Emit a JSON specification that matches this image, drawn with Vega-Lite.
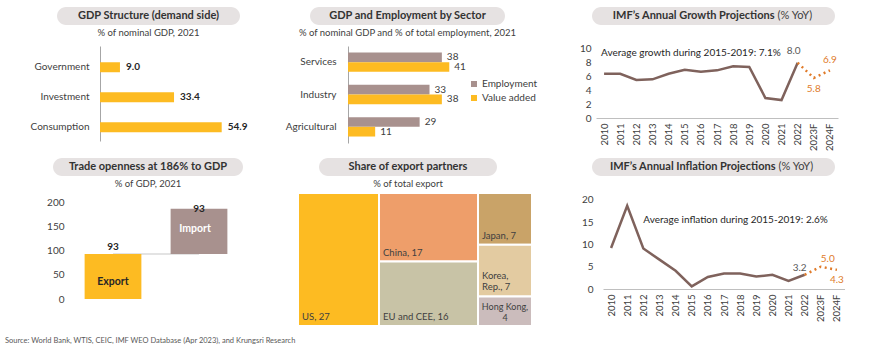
{
  "$schema": "https://vega.github.io/schema/vega-lite/v6.json",
  "background": "white",
  "padding": {"left": 0, "top": 7, "right": 0, "bottom": 0},
  "spacing": 5,
  "resolve": {"scale": {"color": "independent"}, "legend": {"color": "independent"}},
  "config": {
    "font": "Lato",
    "view": {"stroke": null},
    "axis": {"labelFont": "Lato", "labelColor": "#404040", "grid": false},
    "legend": {"labelFont": "Lato"},
    "title": {"font": "Lato"}
  },
  "title": {
    "text": "Source: World Bank, WTIS, CEIC, IMF WEO Database (Apr 2023), and Krungsri Research",
    "orient": "bottom", "anchor": "start", "frame": "group",
    "fontSize": 7.5, "fontWeight": "normal", "color": "#595959", "offset": 10, "dx": 5
  },
  "vconcat": [
    {
      "bounds": "flush", "spacing": 0,
      "hconcat": [
        {"width": 57, "height": 1, "data": {"values": []}, "mark": "point"},
        {
          "width": 183, "height": 18,
          "view": {"fill": "#E6E2E2", "cornerRadius": 9, "stroke": null},
          "title": {"text": "% of nominal GDP, 2021", "orient": "bottom", "anchor": "middle", "offset": 3, "fontSize": 9.5, "fontWeight": "normal", "color": "#404040"},
          "data": {"values": [{}]},
          "mark": {"type": "text", "text": "GDP Structure (demand side)", "fontWeight": "bold", "fontSize": 11, "color": "#333333", "align": "center", "baseline": "middle"}
        },
        {"width": 70, "height": 1, "data": {"values": []}, "mark": "point"},
        {
          "width": 195, "height": 18,
          "view": {"fill": "#E6E2E2", "cornerRadius": 9, "stroke": null},
          "title": {"text": "% of nominal GDP and % of total employment, 2021", "orient": "bottom", "anchor": "middle", "offset": 3, "fontSize": 9.5, "fontWeight": "normal", "color": "#404040"},
          "data": {"values": [{}]},
          "mark": {"type": "text", "text": "GDP and Employment by Sector", "fontWeight": "bold", "fontSize": 11, "color": "#333333", "align": "center", "baseline": "middle"}
        },
        {"width": 87, "height": 1, "data": {"values": []}, "mark": "point"},
        {
          "width": 243, "height": 18,
          "view": {"fill": "#E6E2E2", "cornerRadius": 9, "stroke": null},
          "data": {"values": [{}]},
          "layer": [
            {"mark": {"type": "text", "text": "IMF’s Annual Growth Projections", "fontWeight": "bold", "fontSize": 11, "color": "#333333", "align": "right", "baseline": "middle", "dx": 61}},
            {"mark": {"type": "text", "text": "(% YoY)", "fontWeight": "normal", "fontSize": 11, "color": "#404040", "align": "left", "baseline": "middle", "dx": 64}}
          ]
        }
      ]
    },
    {
      "spacing": 7,
      "resolve": {"scale": {"color": "independent"}, "legend": {"color": "independent"}},
      "vconcat": [
        {
          "bounds": "flush", "spacing": 0,
          "resolve": {"scale": {"color": "independent"}, "legend": {"color": "independent"}},
          "hconcat": [
            {"width": 100, "height": 1, "data": {"values": []}, "mark": "point"},
            {
              "width": 133, "height": 95,
              "data": {"values": [
                {"component": "Government", "share": 9.0},
                {"component": "Investment", "share": 33.4},
                {"component": "Consumption", "share": 54.9}
              ]},
              "encoding": {
                "y": {"field": "component", "type": "nominal", "sort": null,
                  "scale": {"paddingInner": 0.667, "paddingOuter": 0.4167, "align": 0.65},
                  "axis": {"title": null, "ticks": false, "domainColor": "#A6A6A6", "labelPadding": 11, "labelFontSize": 10}},
                "x": {"field": "share", "type": "quantitative", "scale": {"domain": [0, 60]}, "axis": null}
              },
              "layer": [
                {"mark": {"type": "bar", "color": "#FDBB22"}},
                {"mark": {"type": "text", "align": "left", "dx": 6, "fontWeight": "bold", "fontSize": 10, "color": "#262626"},
                 "encoding": {"text": {"field": "share", "type": "quantitative", "format": ".1f"}}}
              ]
            },
            {"width": 115, "height": 1, "data": {"values": []}, "mark": "point"},
            {
              "width": 123.5, "height": 97,
              "data": {"values": [
                {"sector": "Services", "measure": "Employment", "pct": 38},
                {"sector": "Services", "measure": "Value added", "pct": 41},
                {"sector": "Industry", "measure": "Employment", "pct": 33},
                {"sector": "Industry", "measure": "Value added", "pct": 38},
                {"sector": "Agricultural", "measure": "Employment", "pct": 29},
                {"sector": "Agricultural", "measure": "Value added", "pct": 11}
              ]},
              "encoding": {
                "y": {"field": "sector", "type": "nominal", "sort": ["Services", "Industry", "Agricultural"],
                  "scale": {"paddingInner": 0.4, "paddingOuter": 0.2},
                  "axis": {"title": null, "ticks": false, "domainColor": "#A6A6A6", "labelPadding": 12, "labelFontSize": 10}},
                "yOffset": {"field": "measure", "type": "nominal", "sort": ["Employment", "Value added"], "scale": {"paddingInner": 0, "paddingOuter": 0}},
                "x": {"field": "pct", "type": "quantitative", "scale": {"domain": [0, 50]}, "axis": null}
              },
              "layer": [
                {"mark": "bar",
                 "encoding": {"color": {"field": "measure", "type": "nominal", "sort": ["Employment", "Value added"],
                   "scale": {"range": ["#A8918E", "#FDBB22"]},
                   "legend": {"orient": "none", "legendX": 121, "legendY": 33, "title": null, "padding": 0, "symbolType": "square", "symbolSize": 36, "symbolStrokeWidth": 0, "labelFontSize": 10, "labelColor": "#404040", "labelOffset": 3, "rowPadding": 4}}}},
                {"mark": {"type": "text", "align": "left", "dx": 5, "fontSize": 10, "color": "#404040"},
                 "encoding": {"text": {"field": "pct", "type": "quantitative"}}}
              ]
            },
            {"width": 123.5, "height": 1, "data": {"values": []}, "mark": "point"},
            {
              "width": 242, "height": 72,
              "data": {"values": [
                {"year": "2010", "gdp": 6.4}, {"year": "2011", "gdp": 6.4}, {"year": "2012", "gdp": 5.5},
                {"year": "2013", "gdp": 5.6}, {"year": "2014", "gdp": 6.4}, {"year": "2015", "gdp": 7.0},
                {"year": "2016", "gdp": 6.7}, {"year": "2017", "gdp": 6.9}, {"year": "2018", "gdp": 7.5},
                {"year": "2019", "gdp": 7.4}, {"year": "2020", "gdp": 2.9}, {"year": "2021", "gdp": 2.6},
                {"year": "2022", "gdp": 8.0}, {"year": "2023F", "gdp": 5.8}, {"year": "2024F", "gdp": 6.9}
              ]},
              "encoding": {
                "x": {"field": "year", "type": "ordinal",
                  "scale": {"type": "point", "padding": 0.5, "domain": ["2010","2011","2012","2013","2014","2015","2016","2017","2018","2019","2020","2021","2022","2023F","2024F"]},
                  "axis": {"title": null, "labelAngle": -90, "ticks": false, "domainColor": "#BFBFBF", "labelPadding": 5, "labelFontSize": 9.5}},
                "y": {"field": "gdp", "type": "quantitative", "scale": {"domain": [0, 10.43], "nice": false},
                  "axis": {"title": null, "values": [0, 2, 4, 6, 8, 10], "domain": false, "ticks": false, "labelPadding": 5, "labelFontSize": 10}}
              },
              "layer": [
                {"transform": [{"filter": "datum.year != '2023F' && datum.year != '2024F'"}],
                 "mark": {"type": "line", "color": "#7F625C", "strokeWidth": 2.5}},
                {"transform": [{"filter": "datum.year == '2022' || datum.year == '2023F' || datum.year == '2024F'"}],
                 "mark": {"type": "line", "color": "#E07B2A", "strokeWidth": 2.5, "strokeDash": [2, 3.5]}},
                {"transform": [{"filter": "datum.year == '2022'"}],
                 "mark": {"type": "text", "fontSize": 10, "color": "#595959", "dx": -4, "dy": -12},
                 "encoding": {"text": {"field": "gdp", "type": "quantitative", "format": ".1f"}}},
                {"transform": [{"filter": "datum.year == '2023F'"}],
                 "mark": {"type": "text", "fontSize": 10, "color": "#E07B2A", "dy": 11},
                 "encoding": {"text": {"field": "gdp", "type": "quantitative", "format": ".1f"}}},
                {"transform": [{"filter": "datum.year == '2024F'"}],
                 "mark": {"type": "text", "fontSize": 10, "color": "#E07B2A", "dy": -10},
                 "encoding": {"text": {"field": "gdp", "type": "quantitative", "format": ".1f"}}},
                {"data": {"values": [{"year": "2010", "gdp": 9.4, "note": "Average growth during 2015-2019: 7.1%"}]},
                 "mark": {"type": "text", "align": "left", "baseline": "middle", "dx": -3, "fontSize": 10, "color": "#262626"},
                 "encoding": {"text": {"field": "note", "type": "nominal"}}}
              ]
            }
          ]
        },
        {
          "spacing": 3,
          "resolve": {"scale": {"color": "independent"}, "legend": {"color": "independent"}},
          "vconcat": [
            {
              "bounds": "flush", "spacing": 0,
              "hconcat": [
                {"width": 53, "height": 1, "data": {"values": []}, "mark": "point"},
                {
                  "width": 190, "height": 18,
                  "view": {"fill": "#E6E2E2", "cornerRadius": 9, "stroke": null},
                  "title": {"text": "% of GDP, 2021", "orient": "bottom", "anchor": "middle", "offset": 3, "fontSize": 9.5, "fontWeight": "normal", "color": "#404040"},
                  "data": {"values": [{}]},
                  "mark": {"type": "text", "text": "Trade openness at 186% to GDP", "fontWeight": "bold", "fontSize": 11, "color": "#333333", "align": "center", "baseline": "middle"}
                },
                {"width": 76, "height": 1, "data": {"values": []}, "mark": "point"},
                {
                  "width": 178, "height": 18,
                  "view": {"fill": "#E6E2E2", "cornerRadius": 9, "stroke": null},
                  "title": {"text": "% of total export", "orient": "bottom", "anchor": "middle", "offset": 3, "fontSize": 9.5, "fontWeight": "normal", "color": "#404040"},
                  "data": {"values": [{}]},
                  "mark": {"type": "text", "text": "Share of export partners", "fontWeight": "bold", "fontSize": 11, "color": "#333333", "align": "center", "baseline": "middle"}
                },
                {"width": 95, "height": 1, "data": {"values": []}, "mark": "point"},
                {
                  "width": 243, "height": 18,
                  "view": {"fill": "#E6E2E2", "cornerRadius": 9, "stroke": null},
                  "data": {"values": [{}]},
                  "layer": [
                    {"mark": {"type": "text", "text": "IMF’s Annual Inflation Projections", "fontWeight": "bold", "fontSize": 11, "color": "#333333", "align": "right", "baseline": "middle", "dx": 62}},
                    {"mark": {"type": "text", "text": "(% YoY)", "fontWeight": "normal", "fontSize": 11, "color": "#404040", "align": "left", "baseline": "middle", "dx": 65}}
                  ]
                }
              ]
            },
            {
              "bounds": "flush", "spacing": 0,
              "resolve": {"scale": {"color": "independent"}, "legend": {"color": "independent"}},
              "hconcat": [
                {"width": 70, "height": 1, "data": {"values": []}, "mark": "point"},
                {
                  "width": 172, "height": 106,
                  "data": {"values": [
                    {"flow": "Export", "value": 93},
                    {"flow": "Import", "value": 93}
                  ]},
                  "transform": [
                    {"window": [{"op": "sum", "field": "value", "as": "top"}], "sort": [{"field": "flow"}], "frame": [null, 0]},
                    {"calculate": "datum.top - datum.value", "as": "base"}
                  ],
                  "encoding": {
                    "x": {"field": "flow", "type": "nominal", "sort": ["Export", "Import"],
                      "scale": {"paddingInner": 0.34, "paddingOuter": 0.17}, "axis": null},
                    "y": {"field": "top", "type": "quantitative", "scale": {"domain": [0, 218.6], "nice": false},
                      "axis": {"title": null, "values": [0, 50, 100, 150, 200], "domain": false, "ticks": false, "labelPadding": 6, "labelFontSize": 10}}
                  },
                  "layer": [
                    {"transform": [{"filter": "datum.flow == 'Export'"}],
                     "mark": {"type": "rule", "color": "#E3E3E3", "strokeWidth": 2},
                     "encoding": {"x2": {"datum": "Import"}}},
                    {"mark": "bar",
                     "encoding": {"y2": {"field": "base"},
                       "color": {"field": "flow", "type": "nominal", "sort": ["Export", "Import"], "scale": {"range": ["#FDBB22", "#A8918E"]}, "legend": null}}},
                    {"transform": [{"filter": "datum.flow == 'Export'"}],
                     "mark": {"type": "text", "fontWeight": "bold", "fontSize": 10, "color": "#262626", "dy": -7},
                     "encoding": {"text": {"field": "value", "type": "quantitative"}}},
                    {"transform": [{"filter": "datum.flow == 'Import'"}],
                     "mark": {"type": "text", "fontWeight": "bold", "fontSize": 10, "color": "#262626", "baseline": "middle", "dy": 0},
                     "encoding": {"text": {"field": "value", "type": "quantitative"}}},
                    {"transform": [{"filter": "datum.flow == 'Export'"}, {"calculate": "(datum.top + datum.base) / 2", "as": "mid"}],
                     "mark": {"type": "text", "fontWeight": "bold", "fontSize": 10.5, "color": "#262626", "baseline": "middle", "dy": 6},
                     "encoding": {"y": {"field": "mid", "type": "quantitative"}, "text": {"field": "flow"}}},
                    {"transform": [{"filter": "datum.flow == 'Import'"}, {"calculate": "(datum.top + datum.base) / 2", "as": "mid"}],
                     "mark": {"type": "text", "fontWeight": "bold", "fontSize": 10.5, "color": "white", "baseline": "middle", "dy": -2, "dx": -4},
                     "encoding": {"y": {"field": "mid", "type": "quantitative"}, "text": {"field": "flow"}}}
                  ]
                },
                {"width": 56, "height": 1, "data": {"values": []}, "mark": "point"},
                {
                  "width": 234, "height": 133,
                  "data": {"values": [
                    {"partner": "US", "share": 27, "col": 1, "ord": 1, "label": "US, 27", "lines": 1},
                    {"partner": "China", "share": 17, "col": 2, "ord": 1, "label": "China, 17", "lines": 1},
                    {"partner": "EU and CEE", "share": 16, "col": 2, "ord": 2, "label": "EU and CEE, 16", "lines": 1},
                    {"partner": "Japan", "share": 7, "col": 3, "ord": 1, "label": "Japan, 7", "lines": 1},
                    {"partner": "Korea, Rep.", "share": 7, "col": 3, "ord": 2, "label": "Korea,\nRep., 7", "lines": 2},
                    {"partner": "Hong Kong", "share": 4, "col": 3, "ord": 3, "label": "Hong Kong,\n4", "lines": 2}
                  ]},
                  "transform": [
                    {"window": [{"op": "sum", "field": "share", "as": "cumAll"}], "sort": [{"field": "col"}, {"field": "ord"}], "frame": [null, 0]},
                    {"window": [{"op": "sum", "field": "share", "as": "cumCol"}], "groupby": ["col"], "sort": [{"field": "ord"}], "frame": [null, 0]},
                    {"joinaggregate": [{"op": "sum", "field": "share", "as": "colSum"}], "groupby": ["col"]},
                    {"calculate": "datum.cumAll - datum.cumCol", "as": "x0"},
                    {"calculate": "datum.x0 + datum.colSum", "as": "x1"},
                    {"calculate": "(datum.cumCol - datum.share) / datum.colSum", "as": "y0"},
                    {"calculate": "datum.cumCol / datum.colSum", "as": "y1"},
                    {"calculate": "(datum.x0 + datum.x1) / 2", "as": "xm"}
                  ],
                  "layer": [
                    {"mark": {"type": "rect", "stroke": "white", "strokeWidth": 2},
                     "encoding": {
                       "x": {"field": "x0", "type": "quantitative", "scale": {"domain": [0, 78], "nice": false}, "axis": null},
                       "x2": {"field": "x1"},
                       "y": {"field": "y0", "type": "quantitative", "scale": {"domain": [0, 1], "reverse": true, "nice": false}, "axis": null},
                       "y2": {"field": "y1"},
                       "color": {"field": "partner", "type": "nominal",
                         "scale": {"domain": ["US", "China", "EU and CEE", "Japan", "Korea, Rep.", "Hong Kong"],
                                   "range": ["#FDBB22", "#EE9E6A", "#C8C3A6", "#C9A368", "#E3CBA1", "#CBBCBC"]},
                         "legend": null}}},
                    {"transform": [{"filter": "datum.lines == 1"}],
                     "mark": {"type": "text", "align": "left", "baseline": "bottom", "dx": 4, "dy": -4, "fontSize": 9.5, "color": "#404040"},
                     "encoding": {"x": {"field": "x0", "type": "quantitative"}, "y": {"field": "y1", "type": "quantitative"}, "text": {"field": "label"}}},
                    {"transform": [{"filter": "datum.partner == 'Korea, Rep.'"}],
                     "mark": {"type": "text", "align": "left", "baseline": "bottom", "dx": 4, "dy": -15.5, "lineBreak": "\n", "lineHeight": 11.5, "fontSize": 9.5, "color": "#404040"},
                     "encoding": {"x": {"field": "x0", "type": "quantitative"}, "y": {"field": "y1", "type": "quantitative"}, "text": {"field": "label"}}},
                    {"transform": [{"filter": "datum.partner == 'Hong Kong'"}],
                     "mark": {"type": "text", "align": "center", "baseline": "bottom", "dy": -14.5, "lineBreak": "\n", "lineHeight": 11, "fontSize": 9, "color": "#404040"},
                     "encoding": {"x": {"field": "xm", "type": "quantitative"}, "y": {"field": "y1", "type": "quantitative"}, "text": {"field": "label"}}}
                  ]
                },
                {"width": 71, "height": 1, "data": {"values": []}, "mark": "point"},
                {
                  "width": 242, "height": 96,
                  "data": {"values": [
                    {"year": "2010", "cpi": 9.2}, {"year": "2011", "cpi": 18.7}, {"year": "2012", "cpi": 9.1},
                    {"year": "2013", "cpi": 6.6}, {"year": "2014", "cpi": 4.1}, {"year": "2015", "cpi": 0.6},
                    {"year": "2016", "cpi": 2.7}, {"year": "2017", "cpi": 3.5}, {"year": "2018", "cpi": 3.5},
                    {"year": "2019", "cpi": 2.8}, {"year": "2020", "cpi": 3.2}, {"year": "2021", "cpi": 1.8},
                    {"year": "2022", "cpi": 3.2}, {"year": "2023F", "cpi": 5.0}, {"year": "2024F", "cpi": 4.3}
                  ]},
                  "encoding": {
                    "x": {"field": "year", "type": "ordinal",
                      "scale": {"type": "point", "padding": 0.5, "domain": ["2010","2011","2012","2013","2014","2015","2016","2017","2018","2019","2020","2021","2022","2023F","2024F"]},
                      "axis": {"title": null, "labelAngle": -90, "ticks": false, "domainColor": "#BFBFBF", "labelPadding": 5, "labelFontSize": 9.5}},
                    "y": {"field": "cpi", "type": "quantitative", "scale": {"domain": [0, 21.57], "nice": false},
                      "axis": {"title": null, "values": [0, 5, 10, 15, 20], "domain": false, "ticks": false, "labelPadding": 10, "labelFontSize": 10}}
                  },
                  "layer": [
                    {"transform": [{"filter": "datum.year != '2023F' && datum.year != '2024F'"}],
                     "mark": {"type": "line", "color": "#7F625C", "strokeWidth": 2.5}},
                    {"transform": [{"filter": "datum.year == '2022' || datum.year == '2023F' || datum.year == '2024F'"}],
                     "mark": {"type": "line", "color": "#E07B2A", "strokeWidth": 2.5, "strokeDash": [2, 3.5]}},
                    {"transform": [{"filter": "datum.year == '2022'"}],
                     "mark": {"type": "text", "fontSize": 10, "color": "#595959", "dx": -5, "dy": -7},
                     "encoding": {"text": {"field": "cpi", "type": "quantitative", "format": ".1f"}}},
                    {"transform": [{"filter": "datum.year == '2023F'"}],
                     "mark": {"type": "text", "fontSize": 10, "color": "#E07B2A", "dx": 7, "dy": -8},
                     "encoding": {"text": {"field": "cpi", "type": "quantitative", "format": ".1f"}}},
                    {"transform": [{"filter": "datum.year == '2024F'"}],
                     "mark": {"type": "text", "fontSize": 10, "color": "#E07B2A", "dy": 10},
                     "encoding": {"text": {"field": "cpi", "type": "quantitative", "format": ".1f"}}},
                    {"data": {"values": [{"year": "2012", "cpi": 15.5, "note": "Average inflation during 2015-2019: 2.6%"}]},
                     "mark": {"type": "text", "align": "left", "baseline": "middle", "fontSize": 10, "color": "#262626"},
                     "encoding": {"text": {"field": "note", "type": "nominal"}}}
                  ]
                }
              ]
            }
          ]
        }
      ]
    }
  ]
}
